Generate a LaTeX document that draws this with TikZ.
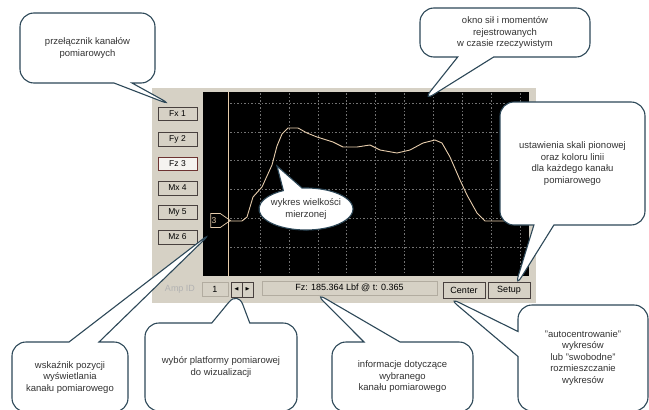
\documentclass[tikz,border=0pt]{standalone}
\usepackage{amssymb}
\usepackage{fontspec}
\setmainfont{Liberation Sans}
\usepackage{tikz}
\usetikzlibrary{shapes.callouts,shapes.symbols,calc}

\definecolor{panelgray}{RGB}{214,209,197}
\definecolor{bubbleline}{RGB}{45,72,88}
\definecolor{tracecol}{RGB}{230,204,172}
\definecolor{gridcol}{RGB}{115,115,115}
\definecolor{btnline}{RGB}{72,64,62}
\definecolor{sunkline}{RGB}{178,172,160}

\tikzset{
    bubble/.style={rectangle callout, draw=bubbleline, line width=1.1pt, fill=white,
        rounded corners=14pt, callout pointer shorten=-6pt, align=center,
        text=black!80, font=\fontsize{9.5}{11.5}\selectfont, inner sep=2pt},
    chanbtn/.style={draw=btnline, fill=panelgray, minimum width=39pt,
        minimum height=13.5pt, inner sep=0pt, font=\fontsize{8.5}{9}\selectfont},
    uibtn/.style={draw=btnline, fill=panelgray, inner sep=0pt,
        font=\fontsize{9}{10}\selectfont},
    sunken/.style={draw=sunkline, fill=panelgray, inner sep=0pt,
        font=\fontsize{9}{10}\selectfont},
    gridline/.style={gridcol, line width=0.55pt, dash pattern=on 1.5pt off 2pt},
    trace/.style={tracecol, line width=0.9pt}
}

\begin{document}
\begin{tikzpicture}[x=1pt, y=-1pt]
    \path[use as bounding box, fill=white] (0,0) rectangle (649,410);

    \node[fill=panelgray, minimum width=384pt, minimum height=215pt, inner sep=0pt] (panel) at (344,195.5) {};
    \node[fill=black, minimum width=326pt, minimum height=184pt, inner sep=0pt] (chart) at (366,184) {};

    \foreach \gx in {0,...,9}
        \draw[gridline] (260+28.9*\gx,93) -- (260+28.9*\gx,275);
    \foreach \gy in {0,...,5}
        \draw[gridline] (230,103+28.8*\gy) -- (528,103+28.8*\gy);

    \draw[trace] (chart.north west) ++(26,0) coordinate (cursortop) -- (cursortop |- chart.south);
    \draw[trace] plot coordinates {(229,221) (242,221) (247,217) (253,197) (262,187)
        (272,165) (277,146) (282,134) (288,128) (298,128) (307,133) (317,137) (333,142)
        (343,147) (357,147) (370,145) (380,150) (397,153) (410,150) (423,143) (435,140)
        (442,143) (450,157) (460,180) (467,195) (477,213) (485,221) (528,221)};
    \coordinate (tracept) at (277,166);

    \node[signal, signal to=east, signal pointer angle=70, draw=tracecol, text=tracecol,
        line width=0.7pt, minimum width=19pt, minimum height=14pt, inner sep=1pt,
        font=\fontsize{8.5}{9}\selectfont] (marker) at (215.5,220.5) {3\,\,};

    \node[chanbtn] (ch1) at (177.5,113.5) {Fx 1};
    \node[chanbtn] (ch2) at (177.5,139) {Fy 2};
    \node[chanbtn, fill=white!75!panelgray, draw=red!20!btnline] (ch3) at (177.5,163.5) {Fz 3};
    \node[chanbtn] (ch4) at (177.5,188) {Mx 4};
    \node[chanbtn] (ch5) at (177.5,212) {My 5};
    \node[chanbtn] (ch6) at (177.5,237) {Mz 6};

    \node[text=black!30, font=\fontsize{9}{10}\selectfont] (ampid) at (180,289.5) {Amp ID};
    \node[sunken, minimum width=26pt, minimum height=14pt] (ampbox) at (215,289) {1};
    \node[uibtn, minimum width=11pt, minimum height=15pt] (arrl) at (236.5,289.5) {$\scriptscriptstyle\blacktriangleleft$};
    \node[uibtn, minimum width=11pt, minimum height=15pt] (arrr) at (247.5,289.5) {$\scriptscriptstyle\blacktriangleright$};
    \node[sunken, minimum width=175pt, minimum height=14pt] (info) at (349.5,288) {Fz: 185.364 Lbf @ t: 0.365};
    \node[uibtn, minimum width=42pt, minimum height=16pt] (centerbtn) at (464,290) {Center};
    \node[uibtn, minimum width=42pt, minimum height=16pt] (setupbtn) at (509,290) {Setup};

    \node[bubble, minimum width=135pt, minimum height=70pt, callout pointer width=18pt,
        callout absolute pointer={($(ch1.north)+(-9,-4)$)}] (switchnote) at (87.5,48)
        {przełącznik kanałów\\pomiarowych};
    \node[bubble, minimum width=170pt, minimum height=49pt, callout pointer width=36pt,
        callout absolute pointer={($(chart.north west)+(224,6)$)}] (windownote) at (505,32.5)
        {okno sił i momentów\\rejestrowanych\\w czasie rzeczywistym};
    \node[bubble, minimum width=145pt, minimum height=123pt, callout pointer width=20pt,
        callout absolute pointer={($(setupbtn.north)+(8,1)$)}] (setupnote) at (572.5,163.5)
        {ustawienia skali pionowej\\oraz koloru linii\\dla każdego kanału\\pomiarowego};
    \node[bubble, ellipse callout, sharp corners, callout pointer shorten=0pt,
        minimum width=94pt, minimum height=42pt,
        inner xsep=-12pt, inner ysep=-4pt, callout pointer arc=24,
        callout absolute pointer={(tracept)}] (tracenote) at (306,209)
        {wykres wielkości\\mierzonej};
    \node[bubble, minimum width=116pt, minimum height=70pt, callout pointer width=30pt,
        callout absolute pointer={($(marker.south west)+(-2,8)$)}] (markernote) at (70,377)
        {wskaźnik pozycji\\wyświetlania\\kanału pomiarowego};
    \node[bubble, minimum width=152pt, minimum height=88pt, callout pointer width=38pt,
        callout absolute pointer={(arrl.south)}] (platformnote) at (221,367)
        {wybór platformy pomiarowej\\do wizualizacji};
    \node[bubble, minimum width=141pt, minimum height=70pt, callout pointer width=36pt,
        callout absolute pointer={($(info.south)+(-31,1)$)}] (infonote) at (402.5,377)
        {informacje dotyczące\\wybranego\\kanału pomiarowego};
    \node[bubble, minimum width=130pt, minimum height=106pt, callout pointer width=25pt,
        callout absolute pointer={($(centerbtn.south west)+(10,1)$)}] (centernote) at (583,358)
        {"autocentrowanie"\\wykresów\\lub "swobodne"\\rozmieszczanie\\wykresów};
\end{tikzpicture}
\end{document}
